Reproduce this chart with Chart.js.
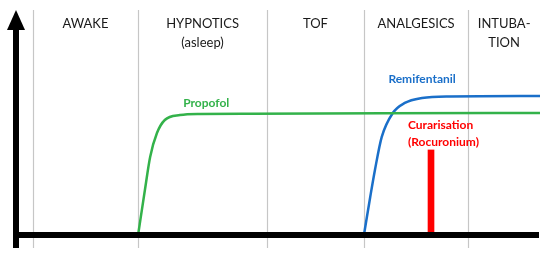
<!DOCTYPE html>
<html>
<head>
<meta charset="utf-8">
<script src="https://cdn.jsdelivr.net/npm/chart.js@4"></script>
<style>
  html, body { margin: 0; padding: 0; background: #fff; }
</style>
</head>
<body>
<canvas id="myChart" width="550" height="257"></canvas>
<script>
/* 데이터 */
const phaseNames = [['AWAKE'], ['HYPNOTICS', '(asleep)'], ['TOF'], ['ANALGESICS'], ['INTUBA-', 'TION']];
const phaseBounds = [3.2, 23.3, 47.9, 66.4, 86.3, 100];

const propofolX = [23.3, 24.6, 25.6, 26.9, 28.4, 31.3, 35.1, 44.7, 70, 100];
const propofolY = [0, 20, 34.7, 45.3, 51.1, 53.3, 53.8, 53.9, 54.1, 54.2];

const remiX = [66.4, 67.6, 68.5, 69.8, 71.9, 74.2, 77.5, 82.8, 100];
const remiY = [0, 16.9, 28.9, 43.6, 54.2, 58.7, 60.9, 61.6, 61.8];

const curarX = [79.2];
const curarY = [37.8];

const GREEN = '#33b24a';
const BLUE = '#1a6fc9';
const RED = '#ff0000';

function pts(xs, ys) {
  return xs.map((x, i) => ({ x: x, y: ys[i] }));
}

/* 축, 구간, 글자 */
const drawExtras = {
  id: 'drawExtras',
  beforeDatasetsDraw(chart) {
    const c = chart.ctx, xs = chart.scales.x, a = chart.chartArea;
    c.save();
    // 회색 구간선
    c.strokeStyle = '#c6c6c6';
    c.lineWidth = 1.2;
    for (let i = 0; i < phaseBounds.length - 1; i++) {
      const px = Math.round(xs.getPixelForValue(phaseBounds[i])) + 0.5;
      c.beginPath();
      c.moveTo(px, a.top);
      c.lineTo(px, a.bottom + 13);
      c.stroke();
    }
    // 구간 이름
    c.fillStyle = '#1a1a1a';
    c.font = '13px Lato';
    c.textAlign = 'center';
    c.textBaseline = 'middle';
    phaseNames.forEach((lines, i) => {
      const mid = (xs.getPixelForValue(phaseBounds[i]) + xs.getPixelForValue(phaseBounds[i + 1])) / 2;
      lines.forEach((t, j) => c.fillText(t, mid, a.top + 14 + j * 19));
    });
    c.restore();
  },
  afterDatasetsDraw(chart) {
    const c = chart.ctx, xs = chart.scales.x, ys = chart.scales.y, a = chart.chartArea;
    c.save();
    // 약 이름
    c.font = 'bold 12px Lato';
    c.textBaseline = 'middle';
    c.textAlign = 'center';
    c.fillStyle = GREEN;
    c.fillText('Propofol', xs.getPixelForValue(36.3), ys.getPixelForValue(58.7));
    c.fillStyle = BLUE;
    c.fillText('Remifentanil', xs.getPixelForValue(77.5), ys.getPixelForValue(69.3));
    c.fillStyle = RED;
    c.textAlign = 'left';
    c.fillText('Curarisation', xs.getPixelForValue(74.8), ys.getPixelForValue(48.9));
    c.fillText('(Rocuronium)', xs.getPixelForValue(74.8), ys.getPixelForValue(41.3));
    // x축
    c.fillStyle = '#000';
    const y0 = ys.getPixelForValue(0);
    c.fillRect(a.left - 3, y0 - 3, a.right - a.left + 2, 6);
    // y축 화살표
    const x0 = a.left;
    c.fillRect(x0 - 3, a.top + 18, 6, a.bottom + 13 - a.top - 18);
    c.beginPath();
    c.moveTo(x0, a.top);
    c.lineTo(x0 - 9, a.top + 20);
    c.lineTo(x0 + 9, a.top + 20);
    c.closePath();
    c.fill();
    c.restore();
  }
};

/* 차트 */
const ctx = document.getElementById('myChart');
var config = {
  type: 'line',
  data: {
    datasets: [{
      label: 'Propofol',
      data: pts(propofolX, propofolY),
      borderColor: GREEN,
      borderWidth: 2.5,
      pointRadius: 0,
      cubicInterpolationMode: 'monotone',
      fill: false
    }, {
      label: 'Remifentanil',
      data: pts(remiX, remiY),
      borderColor: BLUE,
      borderWidth: 2.5,
      pointRadius: 0,
      cubicInterpolationMode: 'monotone',
      fill: false
    }, {
      type: 'bar',
      label: 'Curarisation (Rocuronium)',
      data: pts(curarX, curarY),
      backgroundColor: RED,
      barThickness: 6,
      borderWidth: 0
    }]
  },
  options: {
    responsive: false,
    animation: false,
    layout: {
      padding: { left: 16, right: 10, top: 10, bottom: 22 }
    },
    plugins: {
      legend: { display: false },
      tooltip: { enabled: false }
    },
    scales: {
      x: { type: 'linear', min: 0, max: 100, offset: false, display: false },
      y: { type: 'linear', min: 0, max: 100, display: false }
    }
  },
  plugins: [drawExtras]
};

var myChart = new Chart(ctx, config);
</script>
</body>
</html>
